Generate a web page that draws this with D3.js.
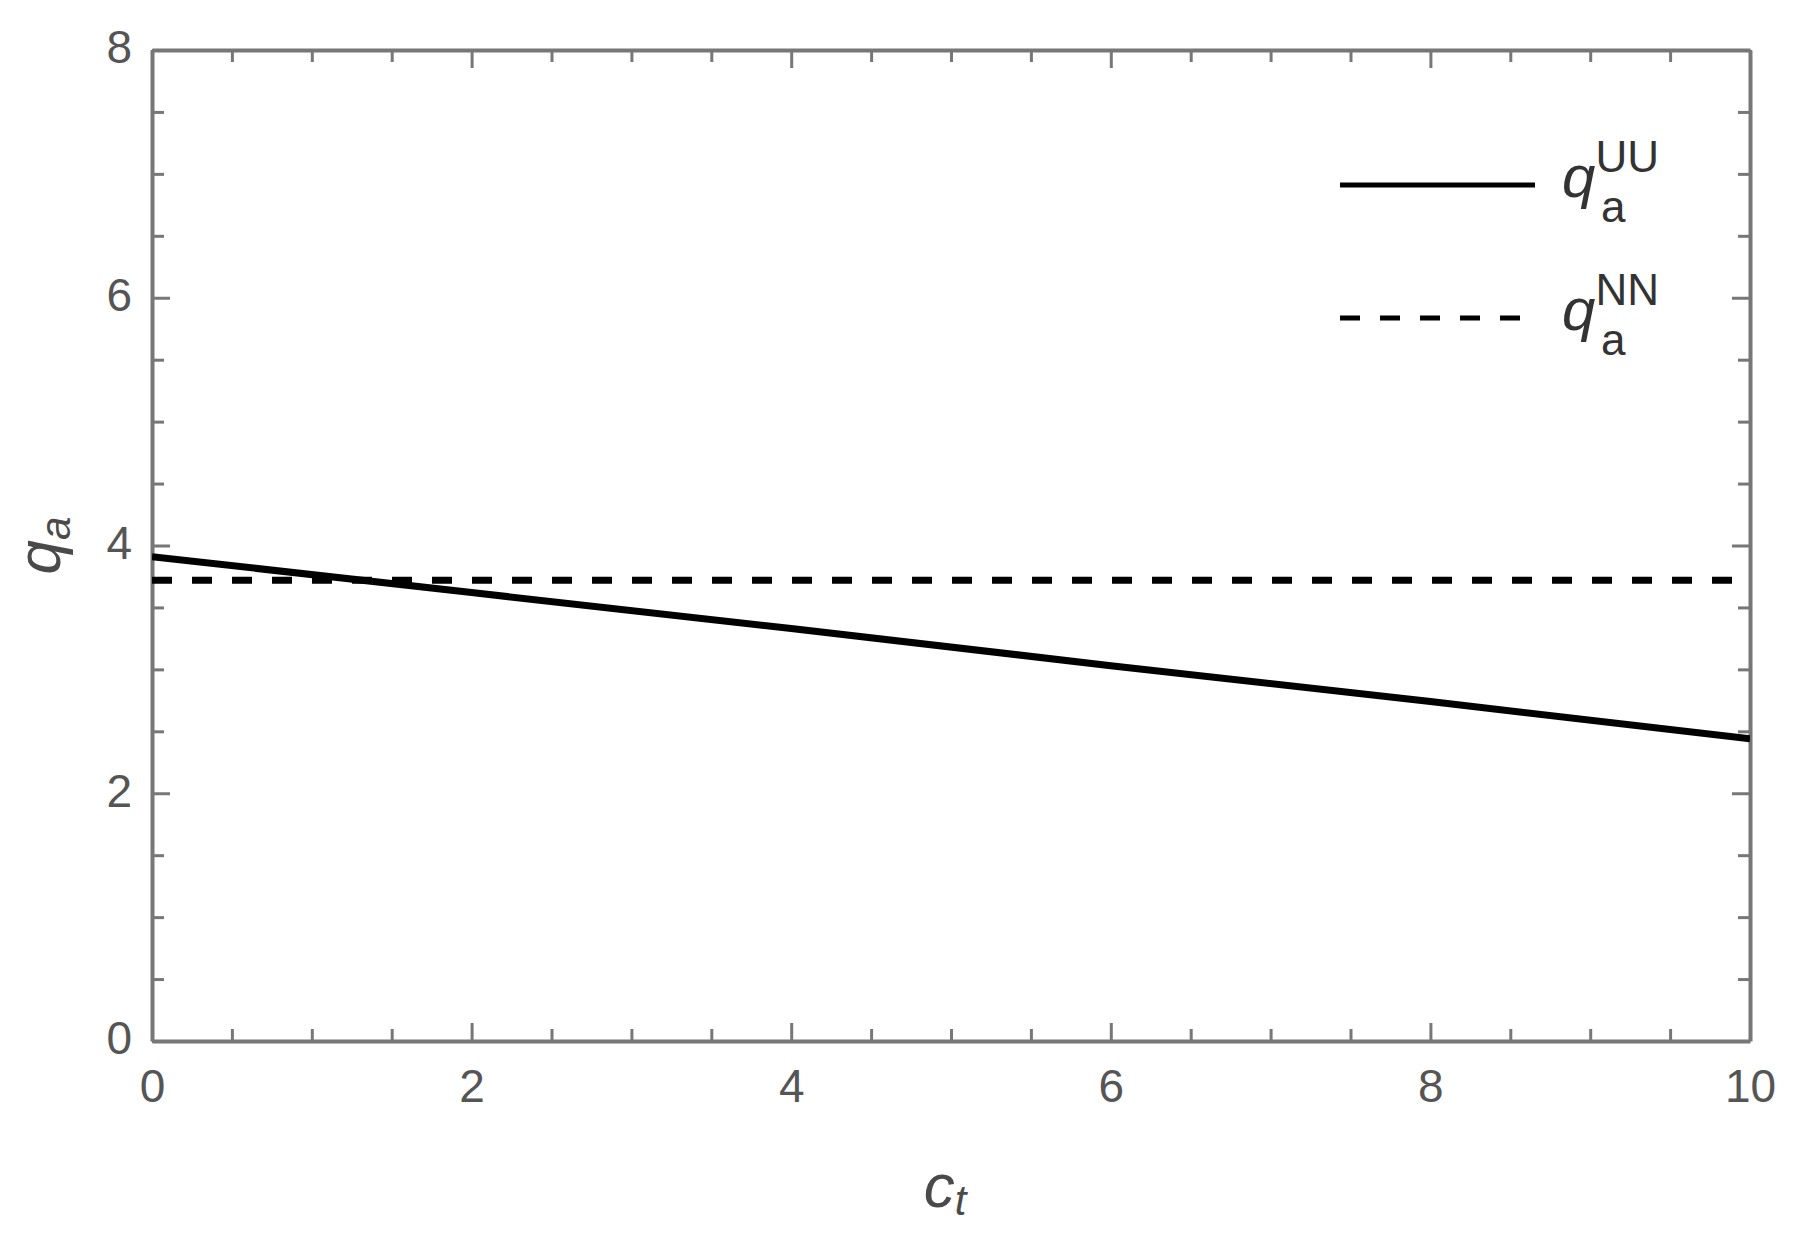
<!DOCTYPE html>
<html>
<head>
<meta charset="utf-8">
<script src="https://cdn.jsdelivr.net/npm/d3@7"></script>
<style>
  body { margin: 0; background: #fff; }
  text { font-family: Arial, "Liberation Sans", sans-serif; }
</style>
</head>
<body>
<script>
// values
let xTicks = [0, 2, 4, 6, 8, 10]
let yTicks = [0, 2, 4, 6, 8]
let ct = [0, 2, 4, 6, 8, 10]
let qUU = [3.91, 3.62, 3.33, 3.03, 2.74, 2.44]
let qNN = [3.72, 3.72, 3.72, 3.72, 3.72, 3.72]
let legendItems = [
  { sup: 'UU', values: qUU, dash: null },
  { sup: 'NN', values: qNN, dash: '20,20' }
]

let W = 1793, H = 1244
let margin = { top: 50, right: 43, bottom: 203, left: 152 }
let frameColor = '#777', textColor = '#555'

let svg = d3.select('body').append('svg')
  .attr('width', W).attr('height', H)

let x = d3.scaleLinear().domain([0, 10]).range([margin.left, W - margin.right])
let y = d3.scaleLinear().domain([0, 8]).range([H - margin.bottom, margin.top])

let minorX = d3.range(0, 10.01, 0.5).filter(d => d % 2 !== 0)
let minorY = d3.range(0, 8.01, 0.5).filter(d => d % 2 !== 0)

let styleAxis = (g) => {
  g.select('.domain').attr('stroke', frameColor).attr('stroke-width', 4)
  g.selectAll('.tick line').attr('stroke', frameColor).attr('stroke-width', 3)
  g.selectAll('.tick text').attr('fill', textColor)
    .style('font-size', '46px')
}

// frame axes: bottom, top, left, right with major + minor ticks pointing inward
let frame = svg.append('g')
let axB = frame.append('g').attr('transform', `translate(0,${y(0)})`)
axB.call(d3.axisBottom(x).tickValues(xTicks).tickSize(-18).tickSizeOuter(0).tickPadding(17))
axB.append('g').call(d3.axisBottom(x).tickValues(minorX).tickSize(-12).tickFormat(''))
  .call(g => g.select('.domain').remove())
axB.call(styleAxis)
axB.selectAll('.tick text').attr('dy', '0.95em')

let axT = frame.append('g').attr('transform', `translate(0,${y(8)})`)
axT.call(d3.axisTop(x).tickValues(xTicks).tickSize(-18).tickSizeOuter(0).tickFormat(''))
axT.append('g').call(d3.axisTop(x).tickValues(minorX).tickSize(-12).tickFormat(''))
  .call(g => g.select('.domain').remove())
axT.call(styleAxis)

let axL = frame.append('g').attr('transform', `translate(${x(0)},0)`)
axL.call(d3.axisLeft(y).tickValues(yTicks).tickSize(-18).tickSizeOuter(0).tickPadding(20))
axL.append('g').call(d3.axisLeft(y).tickValues(minorY).tickSize(-12).tickFormat(''))
  .call(g => g.select('.domain').remove())
axL.call(styleAxis)
axL.selectAll('.tick text').attr('dy', '0.28em')

let axR = frame.append('g').attr('transform', `translate(${x(10)},0)`)
axR.call(d3.axisRight(y).tickValues(yTicks).tickSize(-18).tickSizeOuter(0).tickFormat(''))
axR.append('g').call(d3.axisRight(y).tickValues(minorY).tickSize(-12).tickFormat(''))
  .call(g => g.select('.domain').remove())
axR.call(styleAxis)

// curves
svg.append('clipPath').attr('id', 'plot').append('rect')
  .attr('x', x(0)).attr('y', y(8)).attr('width', x(10) - x(0)).attr('height', y(0) - y(8))

let line = d3.line().x((d, i) => x(ct[i])).y(d => y(d))
let curves = svg.append('g').attr('clip-path', 'url(#plot)')
curves.selectAll('path').data(legendItems).enter()
  .append('path')
  .attr('d', d => line(d.values))
  .attr('fill', 'none')
  .attr('stroke', '#000')
  .attr('stroke-width', 7)
  .attr('stroke-dasharray', d => d.dash)

// legend
let legend = svg.append('g')
let lg = legend.selectAll('g').data(legendItems).enter().append('g')
  .attr('transform', (d, i) => `translate(1340,${185 + i * 133})`)
lg.append('line')
  .attr('x1', 0).attr('x2', d => d.dash ? 188 : 195)
  .attr('stroke', '#000').attr('stroke-width', 5)
  .attr('stroke-dasharray', d => d.dash)
let lt = lg.append('text').attr('x', 222).attr('y', 12)
  .attr('fill', '#333')
lt.append('tspan').text('q').style('font-size', '60px').style('font-style', 'italic')
lt.append('tspan').text(d => d.sup).attr('dy', -25).style('font-size', '44px')
lt.append('tspan').text('a').attr('x', 261).attr('dy', 50).style('font-size', '44px')

// axis labels
let xl = svg.append('text')
  .attr('x', x(5) - 6).attr('y', 1207)
  .attr('text-anchor', 'middle').attr('fill', '#4a4a4a')
  .style('font-style', 'italic')
xl.append('tspan').text('c').style('font-size', '62px')
xl.append('tspan').text('t').attr('dy', 8).style('font-size', '42px')

let yl = svg.append('text')
  .attr('transform', `translate(60,${y(4)}) rotate(-90)`)
  .attr('text-anchor', 'middle').attr('fill', '#4a4a4a')
  .style('font-style', 'italic')
yl.append('tspan').text('q').style('font-size', '62px')
yl.append('tspan').text('a').attr('dy', 10).style('font-size', '42px')
</script>
</body>
</html>
